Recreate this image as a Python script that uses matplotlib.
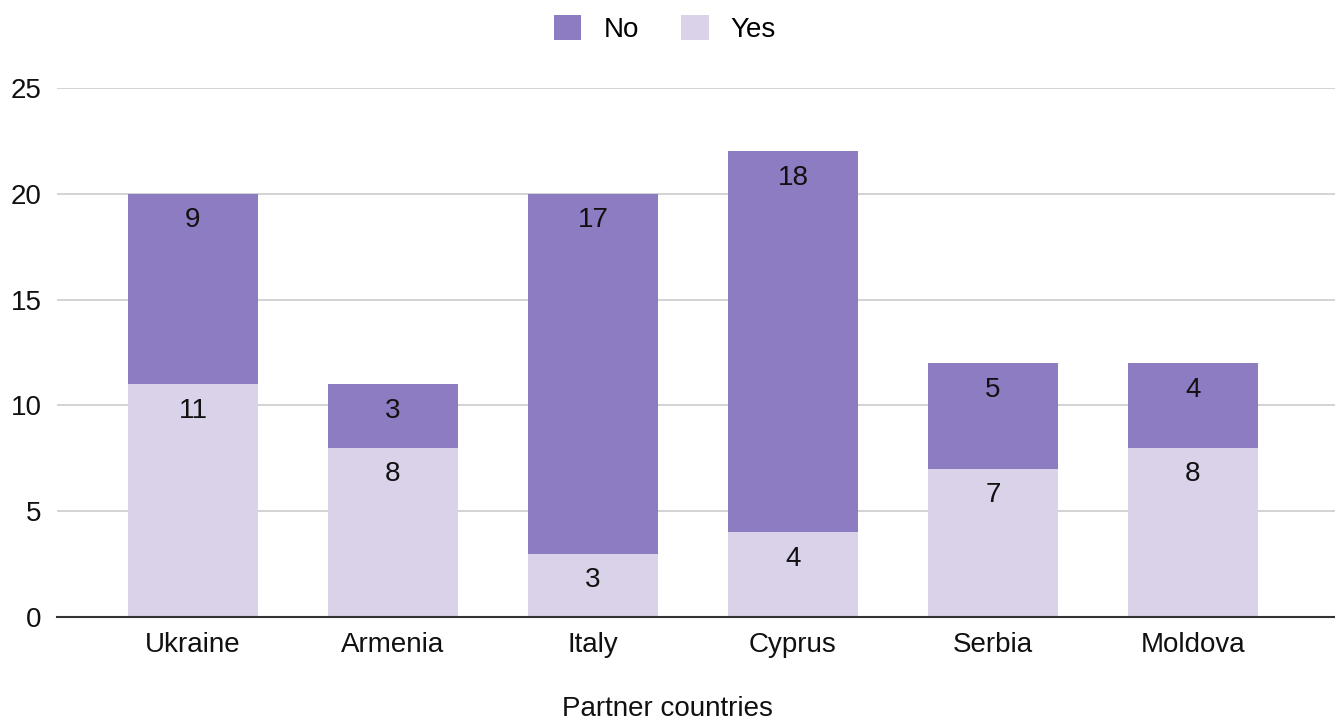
import matplotlib.pyplot as plt
import numpy as np

plt.rcParams['font.family'] = ['Liberation Sans', 'DejaVu Sans']

countries = ['Ukraine', 'Armenia', 'Italy', 'Cyprus', 'Serbia', 'Moldova']
yes_counts = [11, 8, 3, 4, 7, 8]
no_counts = [9, 3, 17, 18, 5, 4]

yes_color = '#d9d2e9'
no_color = '#8e7cc3'

fig = plt.figure(figsize=(13.35, 7.25), dpi=100)
ax = fig.add_axes([57 / 1335, 1 - 617 / 725, 1 - 57 / 1335, (617 - 88) / 725])

x = np.arange(len(countries))
width = 0.65
yes_bars = ax.bar(x, yes_counts, width, color=yes_color, label='Yes', zorder=2)
no_bars = ax.bar(x, no_counts, width, bottom=yes_counts, color=no_color, label='No', zorder=2)

# value labels sit just under the top of each segment
for i in range(len(countries)):
    ax.text(x[i], yes_counts[i] - 1.25, str(yes_counts[i]), ha='center', va='center',
            fontsize=20, color='#111111', zorder=3)
    ax.text(x[i], yes_counts[i] + no_counts[i] - 1.25, str(no_counts[i]), ha='center',
            va='center', fontsize=20, color='#111111', zorder=3)

ax.set_ylim(0, 25)
ax.set_xlim(-0.68, 5.71)
ax.set_yticks([0, 5, 10, 15, 20, 25])
ax.set_xticks(x)
ax.set_xticklabels(countries)
ax.tick_params(axis='both', length=0, labelsize=20, colors='#111111')
ax.tick_params(axis='x', pad=11)
ax.tick_params(axis='y', pad=11)
ax.grid(axis='y', color='#cccccc', linewidth=1.2, zorder=0)
for side in ['top', 'right', 'left']:
    ax.spines[side].set_visible(False)
ax.spines['bottom'].set_color('#333333')
ax.spines['bottom'].set_linewidth(1.5)
ax.spines['bottom'].set_zorder(4)

fig.text(0.5, 1 - 709 / 725, 'Partner countries', ha='center', va='center',
         fontsize=20, color='#111111')

handles = [no_bars, yes_bars]
fig.legend(handles, ['No', 'Yes'], loc='center', bbox_to_anchor=(0.498, 0.96), ncol=2,
           frameon=False, fontsize=20, handlelength=1.0, handleheight=1.0,
           columnspacing=1.5, handletextpad=0.8)

fig.savefig('out.png', dpi=100)
